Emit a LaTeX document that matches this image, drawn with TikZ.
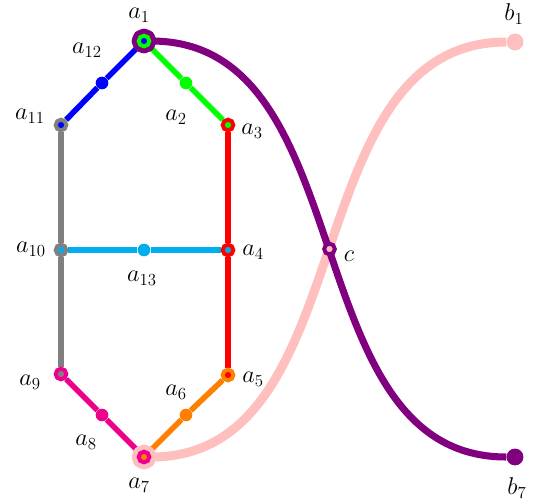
\documentclass[tikz,border=0pt]{standalone}
\usepackage{amsmath,amssymb}
\usepackage{tikz}
\usetikzlibrary{positioning,backgrounds}

\definecolor{skyline}{RGB}{0,174,239}
\definecolor{rosered}{RGB}{236,0,140}

\begin{document}
\begin{tikzpicture}[
  x=0.025cm, y=-0.025cm,
  dot/.style={circle, fill=#1, inner sep=0pt, minimum size=9pt},
  ring/.style 2 args={circle, fill=#1, draw=#2, line width=2.8pt, inner sep=0pt, minimum size=7.6pt},
  halo/.style={preaction={draw=#1, line width=10pt, line join=round, line cap=round}},
  edge/.style={draw=#1, line width=4pt},
  lbl/.style={font=\fontsize{17.5}{20}\selectfont, inner sep=0pt}
]
  \useasboundingbox (0,0) rectangle (533,502);

  % vertices of the hexagon
  \node[ring={blue}{green}, halo=violet] (a1) at (144,41) {};
  \node[dot=blue] (a12) at (102,83) {};
  \node[ring={blue}{gray}] (a11) at (61,125) {};
  \node[dot=green] (a2) at (186,83) {};
  \node[ring={green}{red}] (a3) at (228,125) {};
  \node[ring={skyline}{gray}] (a10) at (61,250) {};
  \node[dot=skyline] (a13) at (144,250) {};
  \node[ring={skyline}{red}] (a4) at (228,250) {};
  \node[ring={gray}{rosered}] (a9) at (61,374) {};
  \node[ring={red}{orange}] (a5) at (228,375) {};
  \node[dot=rosered] (a8) at (102,415) {};
  \node[dot=orange] (a6) at (186,415) {};
  \node[ring={orange}{rosered}, halo=pink] (a7) at (144,457) {};

  % outer points and crossing
  \node[dot=pink, minimum size=12pt] (b1) at (515,42) {};
  \node[dot=violet, minimum size=12pt] (b7) at (515,457) {};
  \node[ring={pink}{violet}] (c) at (329.5,249) {};

  % connectors behind the vertices
  \begin{scope}[on background layer]
    \draw[pink, line width=6.4pt] (a7) to[out=0, in=180] (b1);
    \draw[violet, line width=5pt] (a1) to[out=0, in=180] (b7);
    \foreach \from/\to/\col in {a1/a12/blue, a12/a11/blue, a1/a2/green, a2/a3/green,
        a11/a10/gray, a10/a9/gray, a3/a4/red, a4/a5/red, a10/a13/skyline, a13/a4/skyline,
        a9/a8/rosered, a8/a7/rosered, a7/a6/orange, a6/a5/orange}
      \draw[edge=\col] (\from) -- (\to);
  \end{scope}

  % labels
  \foreach \n/\t/\x/\y in {a1/a_1/139/15, a12/a_{12}/87/50, a2/a_2/176/117, a3/a_3/252/131,
      a11/a_{11}/30/116, a10/a_{10}/31/249, a13/a_{13}/142/278, a4/a_4/253/252,
      c/c/349/256, a9/a_9/30/382, a5/a_5/253/379, a6/a_6/176/392, a8/a_8/86/442,
      a7/a_7/139/485, b1/b_1/514/14, b7/b_7/517/488}
    \node[lbl] (t\n) at (\x,\y) {$\t$};
\end{tikzpicture}
\end{document}
